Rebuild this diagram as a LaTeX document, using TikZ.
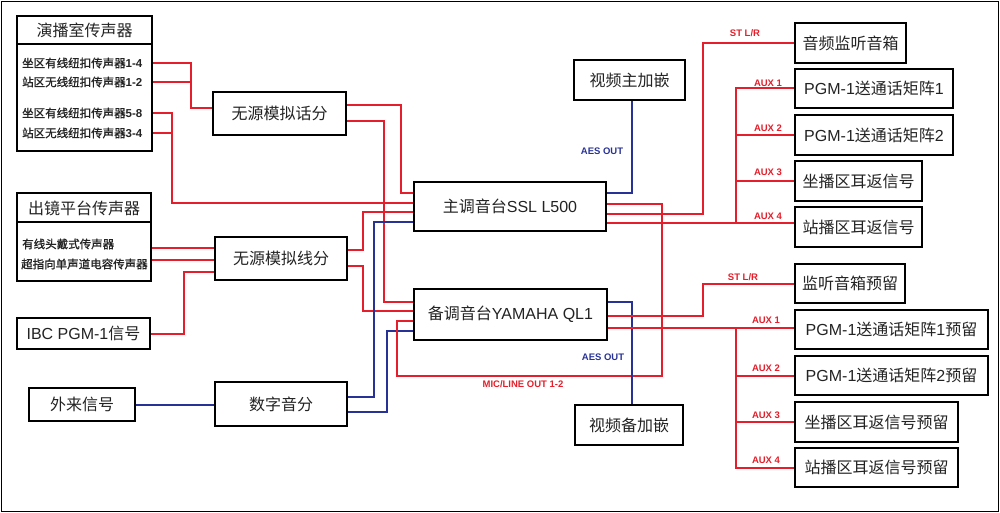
\documentclass[tikz,border=0pt]{standalone}
\usepackage{fontspec}
\setmainfont{Noto Sans CJK SC}
\newfontfamily\latf{Liberation Sans}
\newfontfamily\subf{Noto Sans CJK SC}[AutoFakeBold=1.2]
\newcommand\lt[1]{{\latf #1}}
\usetikzlibrary{backgrounds}
\definecolor{lred}{RGB}{228,30,42}
\definecolor{lblue}{RGB}{40,50,150}
\definecolor{ink}{RGB}{35,35,35}
\begin{document}
\begin{tikzpicture}[x=1pt,y=-1pt,
 box/.style={draw=black, line width=2pt, fill=white, inner sep=0pt, text=ink, font=\fontsize{16}{19}\selectfont},
 title/.style={inner sep=0pt, text=ink, font=\fontsize{16}{19}\selectfont},
 sub/.style={anchor=west, inner sep=0pt, text=ink, font=\subf\bfseries\fontsize{11.5}{13}\selectfont},
 rl/.style={draw=lred, line width=2pt},
 bl/.style={draw=lblue, line width=2pt},
 rlab/.style={inner sep=0pt, text=lred, font=\latf\bfseries\fontsize{9.5}{11}\selectfont},
 blab/.style={inner sep=0pt, text=lblue, font=\latf\bfseries\fontsize{9.5}{11}\selectfont},
]
\useasboundingbox (0,0) rectangle (1000,513);
\draw[line width=1.5pt] (1.5,1.5) rectangle (998.5,511.5);

% left source boxes
\node[box, minimum width=135, minimum height=135] (studio) at (84.5,83.5) {};
\node[title] (studioT) at (84.5,30.5) {演播室传声器};
\draw[line width=2pt] ([yshift=-29]studio.north west) -- ([yshift=-29]studio.north east);
\node[sub] (m1) at (22,63) {坐区有线纽扣传声器\lt{1-4}};
\node[sub] (m2) at (22,82) {站区无线纽扣传声器\lt{1-2}};
\node[sub] (m3) at (22,113) {坐区有线纽扣传声器\lt{5-8}};
\node[sub] (m4) at (22,133) {站区无线纽扣传声器\lt{3-4}};

\node[box, minimum width=134, minimum height=88] (onset) at (84,237) {};
\node[title] (onsetT) at (84,208) {出镜平台传声器};
\draw[line width=2pt] ([yshift=-30]onset.north west) -- ([yshift=-30]onset.north east);
\node[sub] (o1) at (22,244) {有线头戴式传声器};
\node[sub] (o2) at (21,264) {超指向单声道电容传声器};

\node[box, minimum width=133, minimum height=31] (ibc) at (83.5,333.5) {\lt{IBC PGM-1}信号};
\node[box, minimum width=106, minimum height=33] (ext) at (82,404.5) {外来信号};

% distribution
\node[box, minimum width=133, minimum height=43] (hf) at (279.5,113.5) {无源模拟话分};
\node[box, minimum width=132, minimum height=43] (xf) at (281,258.5) {无源模拟线分};
\node[box, minimum width=132, minimum height=44] (dig) at (281,404) {数字音分};

% consoles
\node[box, minimum width=192, minimum height=49] (ssl) at (510,206.5) {主调音台\lt{SSL L500}};
\node[box, minimum width=193, minimum height=51] (ql1) at (510.5,314.5) {备调音台\lt{YAMAHA QL1}};
\node[box, minimum width=111, minimum height=40] (vmain) at (629.5,80) {视频主加嵌};
\node[box, minimum width=108, minimum height=40] (vbak) at (629,425) {视频备加嵌};

% right destination boxes
\node[box, minimum width=111, minimum height=40] (r1) at (850.5,43) {音频监听音箱};
\node[box, minimum width=158, minimum height=39] (r2) at (874,88.5) {\lt{PGM-1}送通话矩阵\lt{1}};
\node[box, minimum width=158, minimum height=40] (r3) at (874,135) {\lt{PGM-1}送通话矩阵\lt{2}};
\node[box, minimum width=127, minimum height=40] (r4) at (858.5,181) {坐播区耳返信号};
\node[box, minimum width=127, minimum height=40] (r5) at (858.5,227) {站播区耳返信号};
\node[box, minimum width=110, minimum height=39] (r6) at (850,283.5) {监听音箱预留};
\node[box, minimum width=193, minimum height=39] (r7) at (891.5,329.5) {\lt{PGM-1}送通话矩阵\lt{1}预留};
\node[box, minimum width=193, minimum height=39] (r8) at (891.5,375.5) {\lt{PGM-1}送通话矩阵\lt{2}预留};
\node[box, minimum width=163, minimum height=40] (r9) at (876.5,422) {坐播区耳返信号预留};
\node[box, minimum width=163, minimum height=39] (r10) at (876.5,467.5) {站播区耳返信号预留};

\coordinate (busA) at (736,223);
\coordinate (busB) at (736,328);

\begin{pgfonlayer}{background}
\draw[rl] (m1 -| studio.east) -- ++(38,0) |- ([yshift=5.5]hf.west);
\draw[rl] (m2 -| studio.east) -- ++(38,0);
\draw[rl] (m3 -| studio.east) -- ++(19,0) |- ([yshift=3.5]ssl.west);
\draw[rl] (m4 -| studio.east) -- ++(19,0);
\draw[rl] ([yshift=8.5]hf.east) -- ++(54,0) |- ([yshift=13.5]ssl.west);
\draw[rl] ([yshift=-7.5]hf.east) -- ++(37,0) |- ([yshift=12.5]ql1.west);
\draw[rl] ([yshift=10.5]xf.west) -- ([yshift=10.5]xf.west -| onset.east);
\draw[rl] ([yshift=-1]xf.west) -- ([yshift=-1]xf.west -| onset.east);
\draw[rl] (ibc.east) -- ++(33,0) |- ([yshift=-13.5]xf.west);
\draw[rl] ([yshift=8.5]xf.east) -- ++(15,0) |- ([yshift=-5.5]ssl.west);
\draw[rl] ([yshift=-7.5]xf.east) -- ++(15,0) |- ([yshift=3.5]ql1.west);
\draw[bl] (ext.east) -- (ext.east -| dig.west);
\draw[bl] ([yshift=7]dig.east) -- ++(26,0) |- ([yshift=-15.5]ssl.west);
\draw[bl] ([yshift=-8]dig.east) -- ++(39,0) |- ([yshift=-16.5]ql1.west);
\draw[rl] ([yshift=-6.5]ql1.west) -- ++(-16,0) -- ++(0,55) -- ++(265,0) |- ([yshift=2.5]ssl.east);

\draw[bl] ([yshift=13.5]ssl.east) -| ([xshift=2.5]vmain.south);
\draw[rl] ([yshift=-7.5]ssl.east) -- ++(96,0) |- (r1.west);
\draw[rl] ([yshift=-16.5]ssl.east) -- ([yshift=-16.5]ssl.east -| r5.west);
\draw[rl] (busA) |- (r2.west);
\draw[rl] (busA |- r3.west) -- (r3.west);
\draw[rl] (busA |- r4.west) -- (r4.west);

\draw[bl] ([yshift=12.5]ql1.east) -| ([xshift=3]vbak.north);
\draw[rl] ([yshift=-1.5]ql1.east) -- ++(95,0) |- (r6.west);
\draw[rl] ([yshift=-13.5]ql1.east) -- ([yshift=-13.5]ql1.east -| r7.west);
\draw[rl] (busB) |- (r10.west);
\draw[rl] (busB |- r8.west) -- (r8.west);
\draw[rl] (busB |- r9.west) -- (r9.west);
\end{pgfonlayer}

% labels
\node[blab] (aes1) at (602,151) {AES OUT};
\node[blab] (aes2) at (603,357) {AES OUT};
\node[rlab] (mic) at (523,384) {MIC/LINE OUT 1-2};
\node[rlab] (st1) at (745,33) {ST L/R};
\node[rlab] (st2) at (743,277) {ST L/R};
\node[rlab] (a1) at (768,83) {AUX 1};
\node[rlab] (a2) at (768,128) {AUX 2};
\node[rlab] (a3) at (768,172) {AUX 3};
\node[rlab] (a4) at (768,216) {AUX 4};
\node[rlab] (b1) at (766,320) {AUX 1};
\node[rlab] (b2) at (766,368) {AUX 2};
\node[rlab] (b3) at (766,415) {AUX 3};
\node[rlab] (b4) at (766,460) {AUX 4};
\end{tikzpicture}
\end{document}
